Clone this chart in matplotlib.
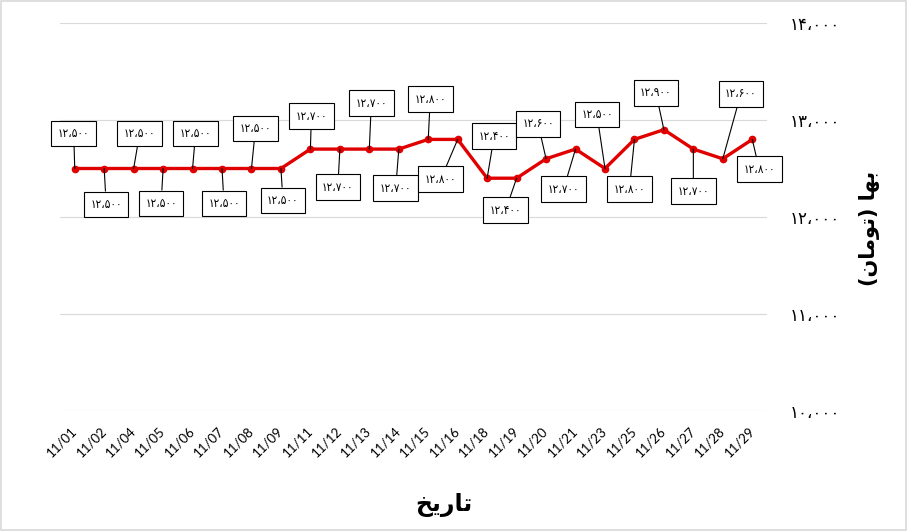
import matplotlib.pyplot as plt
from matplotlib.patches import Rectangle

dates = ["11/01", "11/02", "11/04", "11/05", "11/06", "11/07", "11/08", "11/09",
         "11/11", "11/12", "11/13", "11/14", "11/15", "11/16", "11/18", "11/19",
         "11/20", "11/21", "11/23", "11/25", "11/26", "11/27", "11/28", "11/29"]
prices = [12500, 12500, 12500, 12500, 12500, 12500, 12500, 12500,
          12700, 12700, 12700, 12700, 12800, 12800, 12400, 12400,
          12600, 12700, 12500, 12800, 12900, 12700, 12600, 12800]
y_ticks = [10000, 11000, 12000, 13000, 14000]

# shaped (visual order) arabic-script text, matplotlib does no shaping itself
x_title = "\uFEA6\uFEF3\uFEAD\uFE8E\uFE97"  # تاریخ
y_title = "(\uFEE5\uFE8E\uFEE3\uFEEE\uFE97) \uFE8E\uFEEC\uFE91"  # بها (تومان)

# data label offsets in pixels (label box centre relative to the point)
label_offsets = [(-1, 35), (2, -36), (6, 35), (-2, -35), (3, 35), (2, -35),
                 (4, 40), (2, -32), (1, 33), (-2, -38), (2, 46), (-3, -39),
                 (2, 40), (-17, -40), (7, 42), (-11, -32), (-8, 35), (-12, -40),
                 (-8, 54), (-5, -50), (-8, 37), (0, -42), (18, 65), (7, -30)]


def fa_num(v):
    s = f"{v:,}"
    return s.translate(str.maketrans("0123456789,", "۰۱۲۳۴۵۶۷۸۹،"))


fig = plt.figure(figsize=(9.08, 5.31), dpi=100)
ax = fig.add_axes([60 / 908, 1 - 411 / 531, 707 / 908, 388 / 531])

x = list(range(len(dates)))
ax.plot(x, prices, color="#e00000", lw=2.4, marker="o", markersize=4.5, zorder=3)

for i, v in enumerate(prices):
    dx, dy = label_offsets[i]
    ax.annotate(fa_num(v), xy=(i, v), xytext=(dx, dy), textcoords="offset pixels",
                ha="center", va="center", fontsize=8.5, family="DejaVu Sans",
                fontstretch="condensed",
                bbox=dict(boxstyle="square,pad=0.55", fc="white", ec="black", lw=0.8),
                arrowprops=dict(arrowstyle="-", color="black", lw=0.8,
                                shrinkA=0, shrinkB=0), zorder=4)

ax.set_xlim(-0.5, len(dates) - 0.5)
ax.set_ylim(10000, 14000)
ax.set_xticks(x)
ax.set_xticklabels(dates, rotation=45, ha="right", va="center",
                   rotation_mode="anchor", fontsize=9.5, family="Lato")
ax.yaxis.tick_right()
ax.set_yticks(y_ticks)
ax.set_yticklabels([fa_num(t) for t in y_ticks], fontsize=12, family="DejaVu Sans")
ax.tick_params(axis="both", length=0)
ax.tick_params(axis="y", pad=16)
ax.tick_params(axis="x", pad=13)
ax.grid(axis="y", color="#d9d9d9", lw=0.8)
ax.set_axisbelow(True)
for s in ax.spines.values():
    s.set_visible(False)

fig.text(444 / 908, 1 - 505 / 531, x_title, ha="center", va="center",
         fontsize=17, fontweight="bold", family="DejaVu Sans")
fig.text(870 / 908, 1 - 228 / 531, y_title, ha="center", va="center",
         rotation=90, fontsize=15, fontweight="bold", family="DejaVu Sans")

fig.patches.append(Rectangle((0.001, 0.002), 0.997, 0.996, transform=fig.transFigure,
                             fill=False, ec="#d9d9d9", lw=1.2))

fig.savefig("out.png", dpi=100)
